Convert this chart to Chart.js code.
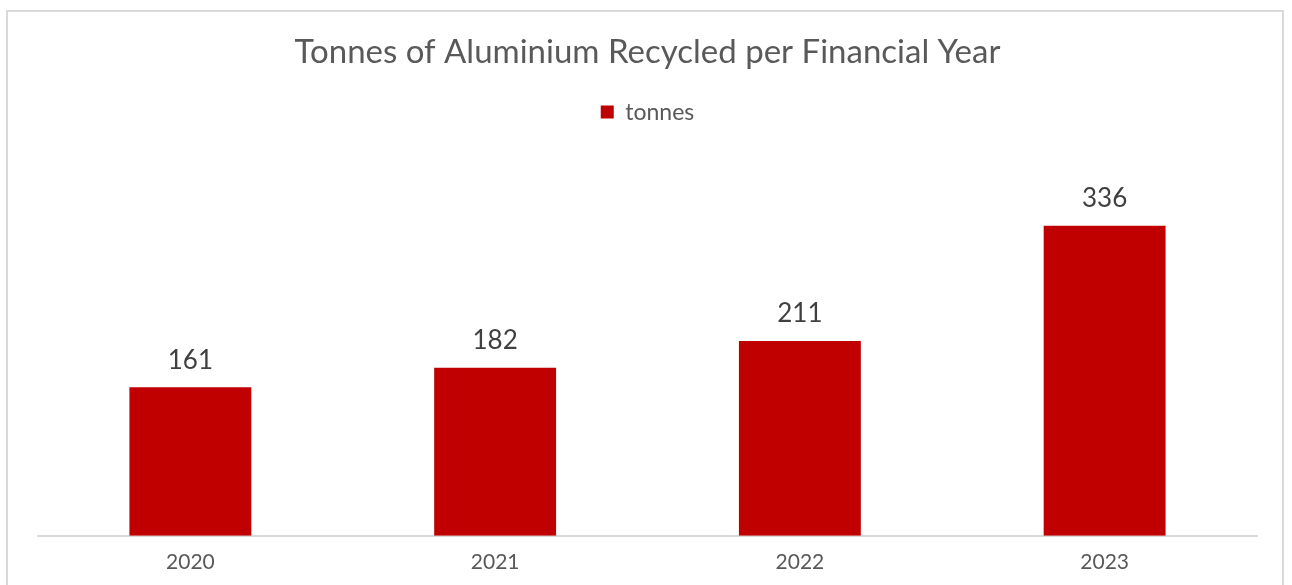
<!DOCTYPE html>
<html>
<head>
<meta charset="utf-8">
<script src="https://cdn.jsdelivr.net/npm/chart.js@4.4.1/dist/chart.umd.min.js"></script>
<style>
  html, body { margin: 0; padding: 0; background: #fff; overflow: hidden; }
  #wrap { position: relative; width: 1292px; height: 585px; }
  #frame {
    position: absolute; left: 6px; top: 10px; width: 1278px; height: 600px;
    border: 2px solid #d9d9d9; box-sizing: border-box;
  }
  canvas { position: absolute; left: 0; top: 0; }
</style>
</head>
<body>
<div id="wrap">
  <div id="frame"></div>
  <canvas id="chart" width="1292" height="585"></canvas>
</div>
<script>
// 年度ごとのアルミ回収量
var years = ["2020", "2021", "2022", "2023"];
var tonnes = [161, 182, 211, 336];
var yMax = 400;

var FONT = "Lato, 'Open Sans', sans-serif";

// 棒の上に数値を表示
var valueLabels = {
  id: 'valueLabels',
  afterDatasetsDraw: function (chart) {
    var ctx = chart.ctx;
    var meta = chart.getDatasetMeta(0);
    ctx.save();
    ctx.font = '26px ' + FONT;
    ctx.fillStyle = '#404040';
    ctx.textAlign = 'center';
    ctx.textBaseline = 'middle';
    meta.data.forEach(function (bar, i) {
      ctx.fillText(String(chart.data.datasets[0].data[i]), bar.x, bar.y - 27);
    });
    ctx.restore();
  }
};

// 凡例の下に余白を追加
var legendMargin = {
  id: 'legendMargin',
  beforeInit: function (chart) {
    var fit = chart.legend.fit;
    chart.legend.fit = function () {
      fit.bind(chart.legend)();
      this.height += 33;
    };
  }
};

var ctx = document.getElementById('chart').getContext('2d');
var chart = new Chart(ctx, {
  type: 'bar',
  data: {
    labels: years,
    datasets: [{
      label: 'tonnes',
      data: tonnes,
      backgroundColor: '#c00000',
      borderWidth: 0,
      categoryPercentage: 1,
      barPercentage: 0.4
    }]
  },
  options: {
    responsive: false,
    animation: false,
    layout: { padding: { left: 38, right: 35, top: 0, bottom: -4 } },
    plugins: {
      title: {
        display: true,
        text: 'Tonnes of Aluminium Recycled per Financial Year',
        color: '#595959',
        font: { family: FONT, size: 33, weight: 'normal' },
        padding: { top: 33, bottom: 18 }
      },
      legend: {
        display: true,
        labels: {
          color: '#595959',
          font: { family: FONT, size: 23 },
          boxWidth: 13,
          boxHeight: 13,
          padding: 10
        }
      },
      tooltip: { enabled: false }
    },
    scales: {
      x: {
        grid: { display: false, drawTicks: false },
        border: { display: true, color: '#d9d9d9', width: 2 },
        ticks: { color: '#595959', font: { family: FONT, size: 21 }, padding: 14 }
      },
      y: {
        display: false,
        min: 0,
        max: yMax
      }
    }
  },
  plugins: [valueLabels, legendMargin]
});
</script>
</body>
</html>
